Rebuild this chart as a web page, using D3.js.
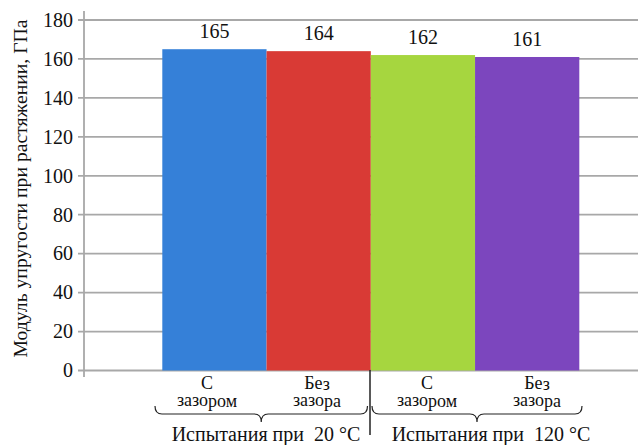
<!DOCTYPE html>
<html><head><meta charset="utf-8">
<script src="https://cdn.jsdelivr.net/npm/d3@7"></script>
<style>body{margin:0;background:#fff}svg{display:block}</style>
</head><body>
<svg id="c" width="638" height="445" font-family="Liberation Serif"></svg>
<script>
const categories = ["c20a","c20b","c120a","c120b"];
const catLine1 = ["С","Без","С","Без"];
const catLine2 = ["зазором","зазора","зазором","зазора"];
const values = [165,164,162,161];
const colors = ["#3580d8","#d93a35","#a6d63f","#7c46be"];
const groups = ["Испытания при  20 °С","Испытания при  120 °С"];
const yTicks = [0,20,40,60,80,100,120,140,160,180];
const yTitle = "Модуль упругости при растяжении, ГПа";

const FF = '"Liberation Serif", "Times New Roman", serif';
const BASE = 17;
const svg = d3.select("#c");
const y = d3.scaleLinear().domain([0,180]).range([370.5,20]);
const x = d3.scaleBand().domain(categories).range([162.3,579.3]).padding(0);
const xl = d3.scalePoint().domain(categories).range([207,537]);
const xg = d3.scalePoint().domain(groups).range([266,491]);

// place text with a transform (font drawn at BASE size, scaled)
function place(sel, fx, fy, size, rot){
  sel.attr("font-family",FF).attr("fill","#111").attr("font-size",BASE)
    .attr("transform",(d,i)=>`translate(${fx(d,i)},${fy(d,i)}) rotate(${rot||0.02}) scale(${size/BASE})`);
}

// gridlines
svg.append("g").selectAll("line").data(yTicks).join("line")
  .attr("x1",78).attr("x2",638)
  .attr("y1",d=>y(d)).attr("y2",d=>y(d))
  .attr("stroke","#a8a8a8").attr("stroke-width",1.8);

// y axis line
svg.append("line").attr("x1",84).attr("x2",84).attr("y1",11).attr("y2",377)
  .attr("stroke","#a8a8a8").attr("stroke-width",1.8);

// tick labels
svg.append("g").selectAll("text").data(yTicks).join("text")
  .call(place, ()=>73, d=>y(d)+6.8, 20)
  .attr("text-anchor","end").text(d=>d);

// bars
svg.append("g").selectAll("rect").data(values).join("rect")
  .attr("x",(d,i)=>x(categories[i])).attr("width",x.bandwidth())
  .attr("y",d=>y(d)).attr("height",d=>y(0)-y(d))
  .attr("fill",(d,i)=>colors[i]);

// value labels
svg.append("g").selectAll("text").data(values).join("text")
  .call(place, (d,i)=>x(categories[i])+x.bandwidth()/2, d=>y(d)-11, 20)
  .attr("text-anchor","middle").text(d=>d);

// category labels
const cl = svg.append("g");
cl.selectAll("text.l1").data(categories).join("text").attr("class","l1")
  .call(place, d=>xl(d), ()=>389.5, 18)
  .attr("text-anchor","middle").text((d,i)=>catLine1[i]);
cl.selectAll("text.l2").data(categories).join("text").attr("class","l2")
  .call(place, d=>xl(d), ()=>406.5, 18)
  .attr("text-anchor","middle").text((d,i)=>catLine2[i]);

// braces
function brace(x0,x1,top,mid,tip){
  const xm=(x0+x1)/2, r=7;
  return `M${x0},${top} Q${x0},${mid} ${x0+r},${mid} L${xm-r},${mid} Q${xm},${mid} ${xm},${tip} Q${xm},${mid} ${xm+r},${mid} L${x1-r},${mid} Q${x1},${mid} ${x1},${top}`;
}
const braceSpans = [[155,367.5],[372,582]];
svg.append("g").selectAll("path").data(braceSpans).join("path")
  .attr("d",d=>brace(d[0],d[1],406,414,422))
  .attr("fill","none").attr("stroke","#222").attr("stroke-width",1.2);

// separator
svg.append("line").attr("x1",370).attr("x2",370).attr("y1",370).attr("y2",435)
  .attr("stroke","#222").attr("stroke-width",1.5);

// group labels
svg.append("g").selectAll("text").data(groups).join("text")
  .call(place, d=>xg(d), ()=>441, 20)
  .attr("text-anchor","middle")
  .attr("xml:space","preserve").style("white-space","pre").text(d=>d);

// y title
svg.append("text").datum(yTitle)
  .call(place, ()=>26.5, ()=>188.5, 19.7, -90)
  .attr("text-anchor","middle").text(d=>d);
</script>
</body></html>
